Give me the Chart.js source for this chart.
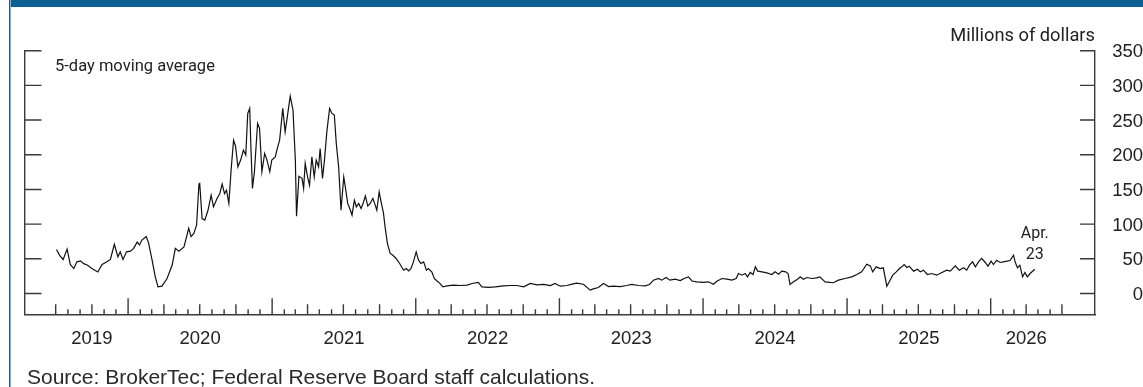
<!DOCTYPE html>
<html>
<head>
<meta charset="utf-8">
<title>Repo volume, 5-day moving average</title>
<script src="https://cdn.jsdelivr.net/npm/chart.js@4.4.1/dist/chart.umd.min.js"></script>
<style>
  html, body { margin: 0; padding: 0; background: #fff; }
  body { width: 1143px; height: 387px; overflow: hidden; position: relative; }
  #bar { position: absolute; left: 9px; top: 0; right: 0; height: 7px; background: #0b5f92; }
  #rule { position: absolute; left: 9px; top: 0; width: 2px; height: 387px;
          background: linear-gradient(to right, #1f5b8e 50%, #7fb1da 50%); }
  #chart { position: absolute; left: 0; top: 0; }
  .txt { position: absolute; white-space: nowrap; line-height: 1; color: #222; }
  #note { left: 55px; top: 58px; font-family: Roboto, sans-serif; font-size: 16.5px; }
  #unit { right: 48px; top: 26px; font-family: Roboto, sans-serif; font-size: 18.3px; }
  #source { left: 27px; top: 366px; font-family: "Liberation Sans", Arial, sans-serif; font-size: 21px; color: #2a2a2a; }
</style>
</head>
<body>
<div id="bar"></div>
<div id="rule"></div>
<canvas id="chart" width="1143" height="387"></canvas>
<div class="txt" id="note">5-day moving average</div>
<div class="txt" id="unit">Millions of dollars</div>
<div class="txt" id="source">Source: BrokerTec; Federal Reserve Board staff calculations.</div>
<script>
// Observation dates and 5-day moving average values, millions of dollars
const obsDates = [
  '2019-07-03','2019-07-11','2019-07-20','2019-07-30','2019-08-07','2019-08-16','2019-08-24','2019-09-02',
  '2019-09-10','2019-09-19','2019-10-01','2019-10-16','2019-10-27','2019-11-09','2019-11-17','2019-11-27',
  '2019-12-06','2019-12-12','2019-12-19','2019-12-28','2020-01-07','2020-01-15','2020-01-24','2020-01-30',
  '2020-02-05','2020-02-16','2020-02-22','2020-03-02','2020-03-10','2020-03-17','2020-03-27','2020-04-09',
  '2020-04-22','2020-04-30','2020-05-09','2020-05-22','2020-06-03','2020-06-09','2020-06-16','2020-06-23',
  '2020-06-29','2020-07-01','2020-07-07','2020-07-14','2020-07-22','2020-07-30','2020-08-05','2020-08-14',
  '2020-08-21','2020-08-27','2020-09-02','2020-09-07','2020-09-13','2020-09-19','2020-09-25','2020-09-30',
  '2020-10-06','2020-10-13','2020-10-20','2020-10-26','2020-10-31','2020-11-05','2020-11-08','2020-11-12',
  '2020-11-17','2020-11-25','2020-11-30','2020-12-06','2020-12-13','2020-12-19','2020-12-26','2020-12-31',
  '2021-01-09','2021-01-13','2021-01-20','2021-01-28','2021-02-03','2021-02-08','2021-02-16','2021-02-23',
  '2021-03-01','2021-03-04','2021-03-10','2021-03-18','2021-03-22','2021-03-26','2021-04-01','2021-04-06',
  '2021-04-12','2021-04-18','2021-04-23','2021-04-29','2021-05-03','2021-05-09','2021-05-14','2021-05-20',
  '2021-05-27','2021-06-02','2021-06-08','2021-06-13','2021-06-19','2021-06-25','2021-07-02','2021-07-06',
  '2021-07-12','2021-07-19','2021-07-23','2021-07-29','2021-08-03','2021-08-09','2021-08-15','2021-08-20',
  '2021-08-26','2021-09-01','2021-09-07','2021-09-14','2021-09-20','2021-09-24','2021-09-30','2021-10-04',
  '2021-10-11','2021-10-15','2021-10-21','2021-10-28','2021-11-04','2021-11-12','2021-11-21','2021-12-01',
  '2021-12-08','2021-12-14','2021-12-20','2021-12-26','2022-01-02','2022-01-08','2022-01-14','2022-01-21',
  '2022-01-28','2022-02-02','2022-02-11','2022-02-17','2022-02-24','2022-03-02','2022-03-11','2022-03-21',
  '2022-04-07','2022-04-24','2022-05-11','2022-05-24','2022-06-09','2022-06-18','2022-07-05','2022-07-22',
  '2022-08-12','2022-08-29','2022-09-15','2022-10-02','2022-10-19','2022-11-05','2022-11-22','2022-12-09',
  '2022-12-21','2023-01-03','2023-01-20','2023-02-02','2023-02-14','2023-03-03','2023-03-20','2023-03-28',
  '2023-04-10','2023-04-23','2023-05-06','2023-05-18','2023-06-04','2023-06-21','2023-07-04','2023-07-21',
  '2023-08-07','2023-08-18','2023-08-28','2023-09-10','2023-09-18','2023-09-29','2023-10-09','2023-10-22',
  '2023-11-04','2023-11-14','2023-11-25','2023-12-04','2023-12-16','2024-01-02','2024-01-15','2024-01-27',
  '2024-02-05','2024-02-18','2024-03-02','2024-03-14','2024-03-25','2024-03-31','2024-04-09','2024-04-17',
  '2024-04-23','2024-04-30','2024-05-07','2024-05-13','2024-05-19','2024-05-30','2024-06-11','2024-06-24',
  '2024-07-02','2024-07-11','2024-07-19','2024-07-29','2024-08-04','2024-08-09','2024-08-18','2024-08-28',
  '2024-09-04','2024-09-12','2024-09-21','2024-10-03','2024-10-16','2024-10-24','2024-11-06','2024-11-19',
  '2024-11-27','2024-12-10','2024-12-27','2025-01-13','2025-01-26','2025-02-07','2025-02-20','2025-03-01',
  '2025-03-07','2025-03-16','2025-03-26','2025-04-03','2025-04-12','2025-04-19','2025-04-27','2025-05-06',
  '2025-05-14','2025-05-20','2025-05-26','2025-06-02','2025-06-08','2025-06-19','2025-06-29','2025-07-06',
  '2025-07-14','2025-07-24','2025-08-04','2025-08-17','2025-08-30','2025-09-11','2025-09-20','2025-10-03',
  '2025-10-13','2025-10-24','2025-11-01','2025-11-08','2025-11-16','2025-11-23','2025-12-01','2025-12-09',
  '2025-12-18','2025-12-25','2026-01-02','2026-01-08','2026-01-16','2026-01-25','2026-02-02','2026-02-11',
  '2026-02-19','2026-02-28','2026-03-04','2026-03-10','2026-03-16','2026-03-23','2026-03-29','2026-04-04',
  '2026-04-11','2026-04-23'
];
const obsValues = [
  63.5, 55, 49, 64, 42, 36, 45.6, 47,
  43, 41, 36, 31, 42, 46, 49, 71,
  53, 60, 49, 60, 61, 65, 74, 70,
  77, 82, 73, 48, 24, 9.5, 10.5, 21.6,
  41, 65, 61, 67, 94, 82, 86.5, 98.5,
  157.7, 158.7, 108, 105.7, 120, 141.8, 125, 137,
  144, 157.7, 144, 149, 130, 180, 221, 212.5,
  182.6, 192.3, 206.7, 199.5, 259.6, 266.9, 211.5, 151.5,
  175.4, 245.2, 238, 175.4, 202, 192.3, 175.4, 192.3,
  197, 206.7, 221, 266.9, 233, 252.4, 284.6, 264.4,
  192, 111.5, 169, 166, 151.5, 187.5, 168, 156,
  197, 168, 192.3, 182.6, 209, 166, 192.3, 233,
  266.9, 259.6, 257.2, 216.4, 182.6, 120, 168, 153.8,
  129.8, 120, 113, 134.6, 125, 129.8, 122.6, 129.8,
  140.4, 126, 129.8, 137, 127.4, 120, 146.6, 134.6,
  115.4, 96, 72, 57.7, 55, 50.5, 43.3, 33.6,
  36, 32.6, 36, 45.6, 60, 48, 43.3, 45.6,
  33.6, 36, 31, 21.6, 18, 15.3, 9.5, 11,
  12, 11.5, 12, 14.4, 15.9, 9.5, 8.7, 9.5,
  11, 11.5, 11.5, 9.5, 14.4, 12.4, 13, 11.5,
  14.4, 10.5, 11.5, 13.4, 14.9, 13.4, 4.8, 6.6,
  8.7, 14.4, 10, 10.5, 10, 11.5, 13, 11.5,
  11, 13, 19.2, 21.6, 19.2, 23, 19.2, 20.6,
  18.7, 21.6, 24, 18, 16.8, 15.9, 16.8, 13.4,
  17.7, 21.6, 20.6, 19.2, 21.6, 28.8, 26.4, 28.8,
  24, 30.3, 27.4, 38.4, 32.2, 31.2, 29.7, 27.4,
  31.2, 27.8, 32.2, 31.2, 28.8, 13, 16.8, 20.6,
  24, 20.6, 23, 21.6, 22.5, 24, 16.8, 15.9,
  15.5, 19.2, 21.6, 24, 27.4, 31.2, 42.3, 39.8,
  31.2, 38.4, 36, 37, 10.5, 17.7, 26.4, 31.2,
  36, 38.4, 41.8, 37.5, 39.4, 32.2, 35, 31.2,
  33.6, 27.4, 28.8, 26.4, 30.3, 33.6, 32.2, 39.8,
  33.6, 37, 33.6, 40.8, 45.6, 38.4, 45.6, 50.5,
  44.7, 39.4, 46.6, 41.8, 48, 44.7, 45.6, 46.6,
  47.6, 55.2, 45.6, 37, 40.8, 24, 30.3, 24,
  28.8, 35
];

// Axis content
const yearLabels = ['2019', '2020', '2021', '2022', '2023', '2024', '2025', '2026'];
const yTickValues = [0, 50, 100, 150, 200, 250, 300, 350];
const yRange = [-30, 350];
const xRange = ['2019-04-14', '2026-09-23'];
const monthTickSpan = ['2019-07-01', '2026-07-01'];
const lastLabel = ['Apr.', '23'];

const INK = '#222';
const AXIS = '#3a3a3a';
const AXIS_W = 1.4;
const TICK_FONT = { family: '"Liberation Sans", Arial, sans-serif', size: 18.5 };

function dayNum(s) {
  const [y, m, d] = s.split('-').map(Number);
  return Date.UTC(y, m - 1, d) / 86400000;
}

const points = obsDates.map((d, i) => ({ x: dayNum(d), y: obsValues[i] }));

// Year labels sit at the middle of each year's visible (ticked) span
const spanStart = dayNum(monthTickSpan[0]);
const spanEnd = dayNum(monthTickSpan[1]);
const labelDays = yearLabels.map(y => {
  const a = Math.max(Date.UTC(+y, 0, 1) / 86400000, spanStart);
  const b = Math.min(Date.UTC(+y + 1, 0, 1) / 86400000, spanEnd);
  return (a + b) / 2;
});

// Inward tick marks on both vertical axes and month/quarter/year marks on the date axis
const axisMarks = {
  id: 'axisMarks',
  afterDraw(chart) {
    const { ctx, chartArea: ca, scales } = chart;
    const x = scales.x, y = scales.y;
    ctx.save();
    ctx.strokeStyle = AXIS;
    ctx.lineWidth = AXIS_W;
    ctx.beginPath();
    yTickValues.forEach(v => {
      const py = y.getPixelForValue(v);
      ctx.moveTo(ca.left, py); ctx.lineTo(ca.left + 16.5, py);
      ctx.moveTo(ca.right, py); ctx.lineTo(ca.right - 15, py);
    });
    const y0 = new Date(spanStart * 86400000).getUTCFullYear();
    const y1 = new Date(spanEnd * 86400000).getUTCFullYear();
    for (let yr = y0; yr <= y1; yr++) {
      for (let m = 0; m < 12; m++) {
        const d = Date.UTC(yr, m, 1) / 86400000;
        if (d < spanStart || d > spanEnd) continue;
        const len = m === 0 ? 16 : (m % 3 === 0 ? 10 : 5);
        const px = x.getPixelForValue(d);
        ctx.moveTo(px, ca.bottom); ctx.lineTo(px, ca.bottom - len);
      }
    }
    ctx.stroke();

    // Label for the latest observation
    const last = points[points.length - 1];
    const lx = x.getPixelForValue(last.x);
    const ly = y.getPixelForValue(last.y);
    ctx.fillStyle = INK;
    ctx.font = '16px Roboto, sans-serif';
    ctx.textAlign = 'center';
    ctx.textBaseline = 'alphabetic';
    ctx.fillText(lastLabel[0], lx, ly - 31);
    ctx.fillText(lastLabel[1], lx, ly - 10);
    ctx.restore();
  }
};

new Chart(document.getElementById('chart'), {
  type: 'line',
  data: {
    datasets: [{
      data: points,
      borderColor: '#111',
      borderWidth: 1.2,
      pointRadius: 0,
      tension: 0,
      fill: false,
      yAxisID: 'y'
    }]
  },
  options: {
    responsive: false,
    devicePixelRatio: 1,
    animation: false,
    events: [],
    layout: { padding: { top: 50.7, bottom: 32.7, left: 0, right: 0 } },
    plugins: { legend: { display: false }, tooltip: { enabled: false } },
    scales: {
      x: {
        type: 'linear',
        position: 'bottom',
        min: dayNum(xRange[0]),
        max: dayNum(xRange[1]),
        grid: { display: false, drawTicks: false },
        border: { display: true, color: AXIS, width: AXIS_W },
        ticks: {
          autoSkip: false, maxRotation: 0, minRotation: 0,
          padding: 14, color: INK, font: TICK_FONT,
          callback: (v, i) => yearLabels[i]
        },
        afterBuildTicks: s => { s.ticks = labelDays.map(v => ({ value: v })); },
        afterFit: s => { s.height = 40; }
      },
      y: {
        type: 'linear',
        position: 'right',
        min: yRange[0],
        max: yRange[1],
        grid: { display: false, drawTicks: false },
        border: { display: true, color: AXIS, width: AXIS_W },
        ticks: { crossAlign: 'far', padding: 17.5, labelOffset: 1.5, color: INK, font: TICK_FONT },
        afterBuildTicks: s => { s.ticks = yTickValues.map(v => ({ value: v })); },
        afterFit: s => { s.width = 48; }
      },
      yL: {
        type: 'linear',
        position: 'left',
        min: yRange[0],
        max: yRange[1],
        grid: { display: false, drawTicks: false },
        border: { display: true, color: AXIS, width: AXIS_W },
        ticks: { display: false },
        afterBuildTicks: s => { s.ticks = yTickValues.map(v => ({ value: v })); },
        afterFit: s => { s.width = 25; }
      }
    }
  },
  plugins: [axisMarks]
});
</script>
</body>
</html>
